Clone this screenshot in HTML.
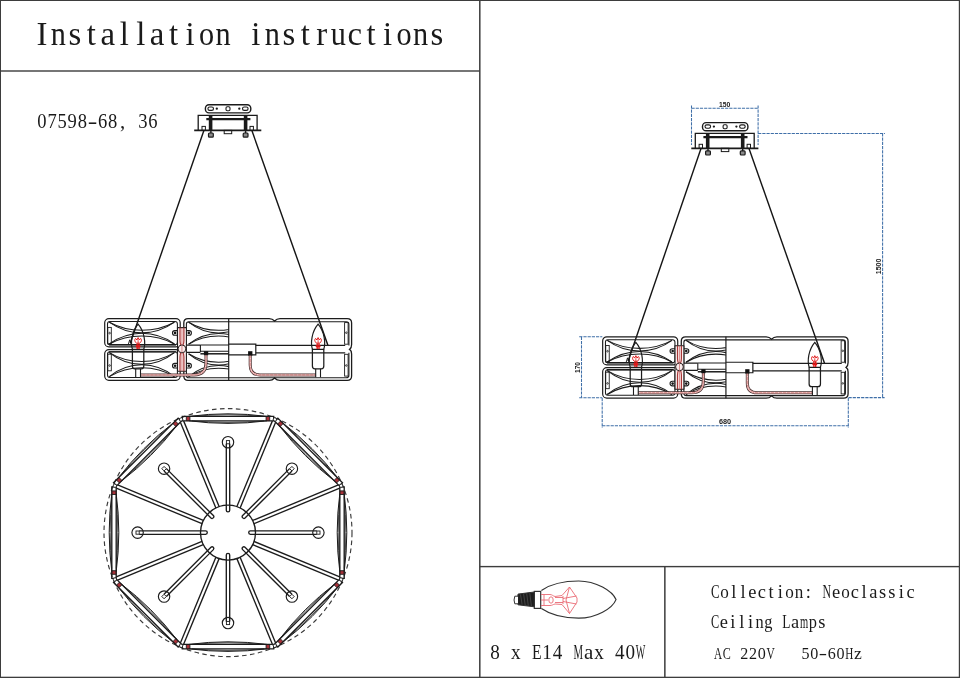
<!DOCTYPE html>
<html lang="en"><head><meta charset="utf-8"><title>Installation instructions</title>
<style>
html,body{margin:0;padding:0;background:#fff;}
body{width:960px;height:678px;overflow:hidden;font-family:"Liberation Serif",serif;}
svg{display:block;will-change:transform;}
</style></head><body>
<svg width="960" height="678" viewBox="0 0 960 678" font-family="'Liberation Serif', serif">
<defs><clipPath id="clipB"><rect x="183" y="317" width="45.7" height="65"/></clipPath></defs>
<rect width="960" height="678" fill="#fff"/>
<g fill="#3d3d3d" stroke="none"><rect x="0" y="0" width="960" height="1"/><rect x="0" y="0" width="1" height="678"/><rect x="958.8" y="0" width="1.2" height="678"/><rect x="0" y="676.7" width="960" height="1.3"/><rect x="479.05" y="0" width="1.5" height="678"/><rect x="0" y="70.3" width="479.8" height="1.4"/><rect x="479.8" y="565.9" width="480.2" height="1.4"/><rect x="664.1" y="566.6" width="1.5" height="111.4"/></g>
<text y="44.60" font-size="32.80" fill="#1a1a1a" aria-label="Installation instructions" ><tspan x="36.47">I</tspan><tspan x="50.82" textLength="15.14" lengthAdjust="spacingAndGlyphs">n</tspan><tspan x="68.47">s</tspan><tspan x="86.75">t</tspan><tspan x="100.49">a</tspan><tspan x="119.67">l</tspan><tspan x="136.13">l</tspan><tspan x="149.87">a</tspan><tspan x="169.05">t</tspan><tspan x="185.51">i</tspan><tspan x="198.96" textLength="15.14" lengthAdjust="spacingAndGlyphs">o</tspan><tspan x="215.42" textLength="15.14" lengthAdjust="spacingAndGlyphs">n</tspan> <tspan x="251.35">i</tspan><tspan x="264.80" textLength="15.14" lengthAdjust="spacingAndGlyphs">n</tspan><tspan x="282.45">s</tspan><tspan x="300.73">t</tspan><tspan x="316.29">r</tspan><tspan x="330.64" textLength="15.14" lengthAdjust="spacingAndGlyphs">u</tspan><tspan x="347.39">c</tspan><tspan x="366.57">t</tspan><tspan x="383.03">i</tspan><tspan x="396.48" textLength="15.14" lengthAdjust="spacingAndGlyphs">o</tspan><tspan x="412.94" textLength="15.14" lengthAdjust="spacingAndGlyphs">n</tspan><tspan x="430.59">s</tspan></text>
<text y="127.60" font-size="20.80" fill="#1a1a1a" aria-label="07598-68, 36" ><tspan x="37.35" textLength="9.28" lengthAdjust="spacingAndGlyphs">0</tspan><tspan x="47.44" textLength="9.28" lengthAdjust="spacingAndGlyphs">7</tspan><tspan x="57.53" textLength="9.28" lengthAdjust="spacingAndGlyphs">5</tspan><tspan x="67.62" textLength="9.28" lengthAdjust="spacingAndGlyphs">9</tspan><tspan x="77.71" textLength="9.28" lengthAdjust="spacingAndGlyphs">8</tspan><tspan x="87.65" textLength="9.59" lengthAdjust="spacingAndGlyphs">-</tspan><tspan x="97.89" textLength="9.28" lengthAdjust="spacingAndGlyphs">6</tspan><tspan x="107.98" textLength="9.28" lengthAdjust="spacingAndGlyphs">8</tspan><tspan x="120.12">,</tspan> <tspan x="138.25" textLength="9.28" lengthAdjust="spacingAndGlyphs">3</tspan><tspan x="148.34" textLength="9.28" lengthAdjust="spacingAndGlyphs">6</tspan></text>
<text y="658.60" font-size="21.00" fill="#1a1a1a" aria-label="8 x E14 Max 40W" ><tspan x="490.32" textLength="9.56" lengthAdjust="spacingAndGlyphs">8</tspan> <tspan x="511.10" textLength="9.56" lengthAdjust="spacingAndGlyphs">x</tspan> <tspan x="531.88" textLength="9.56" lengthAdjust="spacingAndGlyphs">E</tspan><tspan x="542.27" textLength="9.56" lengthAdjust="spacingAndGlyphs">1</tspan><tspan x="552.66" textLength="9.56" lengthAdjust="spacingAndGlyphs">4</tspan> <tspan x="573.44" textLength="9.56" lengthAdjust="spacingAndGlyphs">M</tspan><tspan x="583.94">a</tspan><tspan x="594.22" textLength="9.56" lengthAdjust="spacingAndGlyphs">x</tspan> <tspan x="615.00" textLength="9.56" lengthAdjust="spacingAndGlyphs">4</tspan><tspan x="625.39" textLength="9.56" lengthAdjust="spacingAndGlyphs">0</tspan><tspan x="635.78" textLength="9.56" lengthAdjust="spacingAndGlyphs">W</tspan></text>
<text y="597.90" font-size="18.40" fill="#1a1a1a" aria-label="Collection: Neoclassic" ><tspan x="710.97" textLength="8.56" lengthAdjust="spacingAndGlyphs">C</tspan><tspan x="720.27" textLength="8.56" lengthAdjust="spacingAndGlyphs">o</tspan><tspan x="731.29">l</tspan><tspan x="740.59">l</tspan><tspan x="748.37">e</tspan><tspan x="757.67">c</tspan><tspan x="768.49">t</tspan><tspan x="777.79">i</tspan><tspan x="785.37" textLength="8.56" lengthAdjust="spacingAndGlyphs">o</tspan><tspan x="794.67" textLength="8.56" lengthAdjust="spacingAndGlyphs">n</tspan><tspan x="805.69">:</tspan> <tspan x="822.57" textLength="8.56" lengthAdjust="spacingAndGlyphs">N</tspan><tspan x="832.07">e</tspan><tspan x="841.17" textLength="8.56" lengthAdjust="spacingAndGlyphs">o</tspan><tspan x="850.67">c</tspan><tspan x="861.49">l</tspan><tspan x="869.27">a</tspan><tspan x="879.07">s</tspan><tspan x="888.37">s</tspan><tspan x="898.69">i</tspan><tspan x="906.47">c</tspan></text>
<text y="628.40" font-size="18.40" fill="#1a1a1a" aria-label="Ceiling Lamps" ><tspan x="710.96" textLength="8.19" lengthAdjust="spacingAndGlyphs">C</tspan><tspan x="719.87">e</tspan><tspan x="730.29">i</tspan><tspan x="739.19">l</tspan><tspan x="748.09">i</tspan><tspan x="755.46" textLength="8.19" lengthAdjust="spacingAndGlyphs">n</tspan><tspan x="764.36" textLength="8.19" lengthAdjust="spacingAndGlyphs">g</tspan> <tspan x="782.16" textLength="8.19" lengthAdjust="spacingAndGlyphs">L</tspan><tspan x="791.07">a</tspan><tspan x="799.96" textLength="8.19" lengthAdjust="spacingAndGlyphs">m</tspan><tspan x="808.86" textLength="8.19" lengthAdjust="spacingAndGlyphs">p</tspan><tspan x="818.27">s</tspan></text>
<text y="659.00" font-size="17.60" fill="#1a1a1a" aria-label="AC 220V 50-60Hz" ><tspan x="713.95" textLength="8.05" lengthAdjust="spacingAndGlyphs">A</tspan><tspan x="722.70" textLength="8.05" lengthAdjust="spacingAndGlyphs">C</tspan> <tspan x="740.20" textLength="8.05" lengthAdjust="spacingAndGlyphs">2</tspan><tspan x="748.95" textLength="8.05" lengthAdjust="spacingAndGlyphs">2</tspan><tspan x="757.70" textLength="8.05" lengthAdjust="spacingAndGlyphs">0</tspan><tspan x="766.45" textLength="8.05" lengthAdjust="spacingAndGlyphs">V</tspan> <tspan x="801.45" textLength="8.05" lengthAdjust="spacingAndGlyphs">5</tspan><tspan x="810.20" textLength="8.05" lengthAdjust="spacingAndGlyphs">0</tspan><tspan x="818.82" textLength="8.31" lengthAdjust="spacingAndGlyphs">-</tspan><tspan x="827.70" textLength="8.05" lengthAdjust="spacingAndGlyphs">6</tspan><tspan x="836.45" textLength="8.05" lengthAdjust="spacingAndGlyphs">0</tspan><tspan x="845.20" textLength="8.05" lengthAdjust="spacingAndGlyphs">H</tspan><tspan x="854.07">z</tspan></text>
<g stroke="#1a1a1a" stroke-width="1.2" fill="none"><rect x="205.4" y="104.7" width="45.4" height="8.2" rx="3.6" stroke-width="1.4"/><rect x="207.9" y="107" width="5.6" height="3.4" rx="1.7" stroke-width="1.1"/><rect x="242.5" y="107" width="5.6" height="3.4" rx="1.7" stroke-width="1.1"/><rect x="226" y="106.8" width="4" height="4" rx="1.2" stroke-width="1.1"/><circle cx="216.8" cy="108.7" r="1.15" fill="#1a1a1a" stroke="none"/><circle cx="239.3" cy="108.7" r="1.15" fill="#1a1a1a" stroke="none"/><path d="M198.2 130.4V115.4H257.1V130.4" stroke-width="1.3"/><path d="M194.2 130.4H261.3" stroke-width="1.7"/><path d="M206.3 119.2H250.4" stroke-width="2.2"/><path d="M210.6 116V130.4M245.6 116V130.4" stroke-width="3.6"/><rect x="208.5" y="133" width="4.8" height="4.1" rx="0.9" fill="#8a8a8a" stroke-width="1.2"/><rect x="243.2" y="133" width="4.8" height="4.1" rx="0.9" fill="#8a8a8a" stroke-width="1.2"/><path d="M210.9 130.4V133M245.6 130.4V133" stroke-width="1.4"/><rect x="202" y="126.4" width="3.4" height="4" stroke-width="1"/><rect x="250" y="126.4" width="3.4" height="4" stroke-width="1"/><rect x="224.2" y="130.4" width="7.5" height="3.3" stroke-width="1"/></g>
<g stroke="#141414" stroke-width="1.4" fill="none"><path d="M203.90 130.60L130.30 343.00"/><path d="M251.90 130.60L327.90 345.30"/><path d="M128.40 344.00l1.3 -4.2l1.3 4.2" stroke-width="0.9"/></g>
<g stroke="#1c1c1c" stroke-width="1.25" fill="none"><rect x="104.70" y="318.60" width="75.50" height="28.30" rx="4.20" stroke-width="1.2"/><rect x="104.70" y="349.60" width="75.50" height="30.70" rx="4.20" stroke-width="1.2"/><rect x="107.50" y="321.50" width="69.90" height="23.20" rx="2.40" stroke-width="1.05"/><rect x="107.50" y="351.80" width="69.90" height="25.60" rx="2.40" stroke-width="1.05"/><path d="M109 344.7H176M109 351.8H176" stroke-width="1.35"/><g stroke-width="1.05"><path d="M109.30 322.20C128.83 332.95 154.87 332.95 174.40 322.20"/><path d="M109.30 322.20C128.83 336.44 154.87 336.44 174.40 322.20"/><path d="M109.30 344.00C128.83 333.25 154.87 333.25 174.40 344.00"/><path d="M109.30 344.00C128.83 329.76 154.87 329.76 174.40 344.00"/><path d="M109.30 352.60C128.83 364.44 154.87 364.44 174.40 352.60"/><path d="M109.30 352.60C128.83 368.28 154.87 368.28 174.40 352.60"/><path d="M109.30 376.60C128.83 364.76 154.87 364.76 174.40 376.60"/><path d="M109.30 376.60C128.83 360.92 154.87 360.92 174.40 376.60"/></g><rect x="107.8" y="327.4" width="3.5" height="16.5" stroke-width="0.9"/><circle cx="109.6" cy="333.1" r="0.8" stroke-width="0.8"/><rect x="107.8" y="354.2" width="3.5" height="16.6" stroke-width="0.9"/><circle cx="109.6" cy="365.5" r="0.8" stroke-width="0.8"/><path d="M177.50 330.60H174.80A2.30 2.30 0 0 0 174.80 335.20H177.50" stroke-width="1.1"/><circle cx="175.10" cy="332.90" r="1.3" fill="#161616" stroke="none"/><path d="M186.40 330.60H189.10A2.30 2.30 0 0 1 189.10 335.20H186.40" stroke-width="1.1"/><circle cx="188.80" cy="332.90" r="1.3" fill="#161616" stroke="none"/><path d="M177.50 363.40H174.80A2.30 2.30 0 0 0 174.80 368.00H177.50" stroke-width="1.1"/><circle cx="175.10" cy="365.70" r="1.3" fill="#161616" stroke="none"/><path d="M186.40 363.40H189.10A2.30 2.30 0 0 1 189.10 368.00H186.40" stroke-width="1.1"/><circle cx="188.80" cy="365.70" r="1.3" fill="#161616" stroke="none"/><path d="M183.8 345V322.9Q183.8 318.6 188.1 318.6H269.2Q272.4 318.6 274.6 321Q276.8 318.6 280 318.6H347.2Q351.6 318.6 351.6 323V344.5Q351.6 348 349.6 349.4Q351.6 350.8 351.6 354V376Q351.6 380.4 347.2 380.4H280Q276.8 380.4 274.6 378Q272.4 380.4 269.2 380.4H188.1Q183.8 380.4 183.8 376.1V354Q183.8 350.8 185.6 349.4Q183.8 348 183.8 345Z" stroke-width="1.3"/><path d="M186.4 345.4V324Q186.4 321.7 188.9 321.7H346.2Q348.9 321.7 348.9 324.2V345.4" stroke-width="1.1"/><path d="M186.4 352.8V375.4Q186.4 377.8 188.9 377.8H346.2Q348.9 377.8 348.9 375.2V352.8" stroke-width="1.1"/><g clip-path="url(#clipB)" stroke-width="1.05"><path d="M188.60 322.20C206.57 333.05 230.53 333.05 248.50 322.20"/><path d="M188.60 322.20C206.57 336.57 230.53 336.57 248.50 322.20"/><path d="M188.60 344.20C206.57 333.35 230.53 333.35 248.50 344.20"/><path d="M188.60 344.20C206.57 329.83 230.53 329.83 248.50 344.20"/><path d="M188.60 353.80C206.57 365.05 230.53 365.05 248.50 353.80"/><path d="M188.60 353.80C206.57 368.70 230.53 368.70 248.50 353.80"/><path d="M188.60 376.60C206.57 365.35 230.53 365.35 248.50 376.60"/><path d="M188.60 376.60C206.57 361.70 230.53 361.70 248.50 376.60"/></g><path d="M228.7 318.6V380.4" stroke-width="1.2"/><path d="M186.4 345.2H200.4M186.4 352.4H200.4" stroke-width="1.3"/><path d="M200.4 345.1V351.9" stroke-width="1.1"/><path d="M200.4 345H228.7M200.4 351.3H228.7" stroke-width="1.1"/><path d="M200.4 353.8H228.7" stroke-width="1.5"/><path d="M228.7 344.2H255.8V354.8H228.7" stroke-width="1.2"/><path d="M255.8 345.4H345.2M255.8 352.9H345.2" stroke-width="1.25"/><rect x="344.6" y="322.6" width="3.5" height="21.6" stroke-width="0.9"/><circle cx="346.3" cy="332.7" r="0.8" stroke-width="0.8"/><rect x="344.6" y="354.3" width="3.5" height="21.8" stroke-width="0.9"/><circle cx="346.3" cy="365.5" r="0.8" stroke-width="0.8"/><rect x="177.5" y="327.6" width="8.9" height="43.7" fill="#fdf0f0" stroke="none"/><path d="M177.5 327.6V371.3M186.4 327.6V371.3" stroke-width="1.05"/><path d="M177.2 327.6H186.7M177.2 371.3H186.7" stroke-width="1.1"/><path d="M180 327.6V340.5Q180 343.5 181 345.4M183.9 327.6V340.5Q183.9 343.5 182.9 345.4M180 371.3V357Q180 354 181 352.2M183.9 371.3V357Q183.9 354 182.9 352.2" stroke="#a83838" stroke-width="1.2"/><path d="M181.95 327.6V371.3" stroke="#c86060" stroke-width="0.7"/><circle cx="181.95" cy="348.9" r="3.9" fill="#fbecec" stroke="#2a2020" stroke-width="1"/><path d="M181.95 345.4V352.4" stroke="#c86060" stroke-width="0.7"/><path d="M206 354.8V363Q206 374.9 194 374.9H140.5" stroke="#4a3030" stroke-width="3"/><path d="M206 354.8V363Q206 374.9 194 374.9H140.5" stroke="#f6caca" stroke-width="1.5"/><path d="M206 354.8V363Q206 374.9 194 374.9H140.5" stroke="#c0504d" stroke-width="0.5" stroke-dasharray="3 1"/><path d="M250.2 355V365Q250.2 374.9 260 374.9H316" stroke="#4a3030" stroke-width="3"/><path d="M250.2 355V365Q250.2 374.9 260 374.9H316" stroke="#f6caca" stroke-width="1.5"/><path d="M250.2 355V365Q250.2 374.9 260 374.9H316" stroke="#c0504d" stroke-width="0.5" stroke-dasharray="3 1"/><rect x="203.9" y="351.2" width="4.3" height="4" fill="#111" stroke="none"/><rect x="248.1" y="351.2" width="4.3" height="4.4" fill="#111" stroke="none"/><path d="M132.50 349.4C130.30 343 131.80 331.5 138.10 324.2C144.40 331.5 145.90 343 143.70 349.4" stroke-width="1.2"/><path d="M132.40 349.3H143.80V366Q143.80 368.8 141.30 368.8H134.90Q132.40 368.8 132.40 366Z" stroke-width="1.25"/><path d="M135.70 368.8V377.2M140.50 368.8V377.2" stroke-width="1.1"/><g stroke="#e01818" fill="none" stroke-width="1"><path d="M137.20 349V343.5M139.00 349V343.5" stroke-width="1.4"/><path d="M135.70 346.2H140.50" stroke-width="1.8"/><path d="M136.50 343.2C134.20 341 134.50 339.5 135.60 338.4L136.90 340L138.10 337.6L139.30 340L140.60 338.4C141.70 339.5 142.00 341 139.70 343.2Z" stroke-width="1"/><path d="M138.10 343V340.2" stroke-width="0.8"/></g><path d="M312.50 349.4C310.30 343 311.80 331.5 318.10 324.2C324.40 331.5 325.90 343 323.70 349.4" stroke-width="1.2"/><path d="M312.40 349.3H323.80V366Q323.80 368.8 321.30 368.8H314.90Q312.40 368.8 312.40 366Z" stroke-width="1.25"/><path d="M315.70 368.8V377.2M320.50 368.8V377.2" stroke-width="1.1"/><g stroke="#e01818" fill="none" stroke-width="1"><path d="M317.20 349V343.5M319.00 349V343.5" stroke-width="1.4"/><path d="M315.70 346.2H320.50" stroke-width="1.8"/><path d="M316.50 343.2C314.20 341 314.50 339.5 315.60 338.4L316.90 340L318.10 337.6L319.30 340L320.60 338.4C321.70 339.5 322.00 341 319.70 343.2Z" stroke-width="1"/><path d="M318.10 343V340.2" stroke-width="0.8"/></g></g>
<g transform="translate(497.1 17.9)"><g stroke="#1a1a1a" stroke-width="1.2" fill="none"><rect x="205.4" y="104.7" width="45.4" height="8.2" rx="3.6" stroke-width="1.4"/><rect x="207.9" y="107" width="5.6" height="3.4" rx="1.7" stroke-width="1.1"/><rect x="242.5" y="107" width="5.6" height="3.4" rx="1.7" stroke-width="1.1"/><rect x="226" y="106.8" width="4" height="4" rx="1.2" stroke-width="1.1"/><circle cx="216.8" cy="108.7" r="1.15" fill="#1a1a1a" stroke="none"/><circle cx="239.3" cy="108.7" r="1.15" fill="#1a1a1a" stroke="none"/><path d="M198.2 130.4V115.4H257.1V130.4" stroke-width="1.3"/><path d="M194.2 130.4H261.3" stroke-width="1.7"/><path d="M206.3 119.2H250.4" stroke-width="2.2"/><path d="M210.6 116V130.4M245.6 116V130.4" stroke-width="3.6"/><rect x="208.5" y="133" width="4.8" height="4.1" rx="0.9" fill="#8a8a8a" stroke-width="1.2"/><rect x="243.2" y="133" width="4.8" height="4.1" rx="0.9" fill="#8a8a8a" stroke-width="1.2"/><path d="M210.9 130.4V133M245.6 130.4V133" stroke-width="1.4"/><rect x="202" y="126.4" width="3.4" height="4" stroke-width="1"/><rect x="250" y="126.4" width="3.4" height="4" stroke-width="1"/><rect x="224.2" y="130.4" width="7.5" height="3.3" stroke-width="1"/></g></g>
<g stroke="#141414" stroke-width="1.4" fill="none"><path d="M701.00 148.50L628.12 361.04"/><path d="M749.00 148.50L824.53 363.33"/><path d="M626.22 362.04l1.3 -4.2l1.3 4.2" stroke-width="0.9"/></g>
<g transform="translate(498.6 20.1) scale(0.994)"><g stroke="#1c1c1c" stroke-width="1.25" fill="none"><rect x="104.70" y="318.60" width="75.50" height="28.30" rx="4.20" stroke-width="1.2"/><rect x="104.70" y="349.60" width="75.50" height="30.70" rx="4.20" stroke-width="1.2"/><rect x="107.50" y="321.50" width="69.90" height="23.20" rx="2.40" stroke-width="1.05"/><rect x="107.50" y="351.80" width="69.90" height="25.60" rx="2.40" stroke-width="1.05"/><path d="M109 344.7H176M109 351.8H176" stroke-width="1.35"/><g stroke-width="1.05"><path d="M109.30 322.20C128.83 332.95 154.87 332.95 174.40 322.20"/><path d="M109.30 322.20C128.83 336.44 154.87 336.44 174.40 322.20"/><path d="M109.30 344.00C128.83 333.25 154.87 333.25 174.40 344.00"/><path d="M109.30 344.00C128.83 329.76 154.87 329.76 174.40 344.00"/><path d="M109.30 352.60C128.83 364.44 154.87 364.44 174.40 352.60"/><path d="M109.30 352.60C128.83 368.28 154.87 368.28 174.40 352.60"/><path d="M109.30 376.60C128.83 364.76 154.87 364.76 174.40 376.60"/><path d="M109.30 376.60C128.83 360.92 154.87 360.92 174.40 376.60"/></g><rect x="107.8" y="327.4" width="3.5" height="16.5" stroke-width="0.9"/><circle cx="109.6" cy="333.1" r="0.8" stroke-width="0.8"/><rect x="107.8" y="354.2" width="3.5" height="16.6" stroke-width="0.9"/><circle cx="109.6" cy="365.5" r="0.8" stroke-width="0.8"/><path d="M177.50 330.60H174.80A2.30 2.30 0 0 0 174.80 335.20H177.50" stroke-width="1.1"/><circle cx="175.10" cy="332.90" r="1.3" fill="#161616" stroke="none"/><path d="M186.40 330.60H189.10A2.30 2.30 0 0 1 189.10 335.20H186.40" stroke-width="1.1"/><circle cx="188.80" cy="332.90" r="1.3" fill="#161616" stroke="none"/><path d="M177.50 363.40H174.80A2.30 2.30 0 0 0 174.80 368.00H177.50" stroke-width="1.1"/><circle cx="175.10" cy="365.70" r="1.3" fill="#161616" stroke="none"/><path d="M186.40 363.40H189.10A2.30 2.30 0 0 1 189.10 368.00H186.40" stroke-width="1.1"/><circle cx="188.80" cy="365.70" r="1.3" fill="#161616" stroke="none"/><path d="M183.8 345V322.9Q183.8 318.6 188.1 318.6H269.2Q272.4 318.6 274.6 321Q276.8 318.6 280 318.6H347.2Q351.6 318.6 351.6 323V344.5Q351.6 348 349.6 349.4Q351.6 350.8 351.6 354V376Q351.6 380.4 347.2 380.4H280Q276.8 380.4 274.6 378Q272.4 380.4 269.2 380.4H188.1Q183.8 380.4 183.8 376.1V354Q183.8 350.8 185.6 349.4Q183.8 348 183.8 345Z" stroke-width="1.3"/><path d="M186.4 345.4V324Q186.4 321.7 188.9 321.7H346.2Q348.9 321.7 348.9 324.2V345.4" stroke-width="1.1"/><path d="M186.4 352.8V375.4Q186.4 377.8 188.9 377.8H346.2Q348.9 377.8 348.9 375.2V352.8" stroke-width="1.1"/><g clip-path="url(#clipB)" stroke-width="1.05"><path d="M188.60 322.20C206.57 333.05 230.53 333.05 248.50 322.20"/><path d="M188.60 322.20C206.57 336.57 230.53 336.57 248.50 322.20"/><path d="M188.60 344.20C206.57 333.35 230.53 333.35 248.50 344.20"/><path d="M188.60 344.20C206.57 329.83 230.53 329.83 248.50 344.20"/><path d="M188.60 353.80C206.57 365.05 230.53 365.05 248.50 353.80"/><path d="M188.60 353.80C206.57 368.70 230.53 368.70 248.50 353.80"/><path d="M188.60 376.60C206.57 365.35 230.53 365.35 248.50 376.60"/><path d="M188.60 376.60C206.57 361.70 230.53 361.70 248.50 376.60"/></g><path d="M228.7 318.6V380.4" stroke-width="1.2"/><path d="M186.4 345.2H200.4M186.4 352.4H200.4" stroke-width="1.3"/><path d="M200.4 345.1V351.9" stroke-width="1.1"/><path d="M200.4 345H228.7M200.4 351.3H228.7" stroke-width="1.1"/><path d="M200.4 353.8H228.7" stroke-width="1.5"/><path d="M228.7 344.2H255.8V354.8H228.7" stroke-width="1.2"/><path d="M255.8 345.4H345.2M255.8 352.9H345.2" stroke-width="1.25"/><rect x="344.6" y="322.6" width="3.5" height="21.6" stroke-width="0.9"/><circle cx="346.3" cy="332.7" r="0.8" stroke-width="0.8"/><rect x="344.6" y="354.3" width="3.5" height="21.8" stroke-width="0.9"/><circle cx="346.3" cy="365.5" r="0.8" stroke-width="0.8"/><rect x="177.5" y="327.6" width="8.9" height="43.7" fill="#fdf0f0" stroke="none"/><path d="M177.5 327.6V371.3M186.4 327.6V371.3" stroke-width="1.05"/><path d="M177.2 327.6H186.7M177.2 371.3H186.7" stroke-width="1.1"/><path d="M180 327.6V340.5Q180 343.5 181 345.4M183.9 327.6V340.5Q183.9 343.5 182.9 345.4M180 371.3V357Q180 354 181 352.2M183.9 371.3V357Q183.9 354 182.9 352.2" stroke="#a83838" stroke-width="1.2"/><path d="M181.95 327.6V371.3" stroke="#c86060" stroke-width="0.7"/><circle cx="181.95" cy="348.9" r="3.9" fill="#fbecec" stroke="#2a2020" stroke-width="1"/><path d="M181.95 345.4V352.4" stroke="#c86060" stroke-width="0.7"/><path d="M206 354.8V363Q206 374.9 194 374.9H140.5" stroke="#4a3030" stroke-width="3"/><path d="M206 354.8V363Q206 374.9 194 374.9H140.5" stroke="#f6caca" stroke-width="1.5"/><path d="M206 354.8V363Q206 374.9 194 374.9H140.5" stroke="#c0504d" stroke-width="0.5" stroke-dasharray="3 1"/><path d="M250.2 355V365Q250.2 374.9 260 374.9H316" stroke="#4a3030" stroke-width="3"/><path d="M250.2 355V365Q250.2 374.9 260 374.9H316" stroke="#f6caca" stroke-width="1.5"/><path d="M250.2 355V365Q250.2 374.9 260 374.9H316" stroke="#c0504d" stroke-width="0.5" stroke-dasharray="3 1"/><rect x="203.9" y="351.2" width="4.3" height="4" fill="#111" stroke="none"/><rect x="248.1" y="351.2" width="4.3" height="4.4" fill="#111" stroke="none"/><path d="M132.50 349.4C130.30 343 131.80 331.5 138.10 324.2C144.40 331.5 145.90 343 143.70 349.4" stroke-width="1.2"/><path d="M132.40 349.3H143.80V366Q143.80 368.8 141.30 368.8H134.90Q132.40 368.8 132.40 366Z" stroke-width="1.25"/><path d="M135.70 368.8V377.2M140.50 368.8V377.2" stroke-width="1.1"/><g stroke="#e01818" fill="none" stroke-width="1"><path d="M137.20 349V343.5M139.00 349V343.5" stroke-width="1.4"/><path d="M135.70 346.2H140.50" stroke-width="1.8"/><path d="M136.50 343.2C134.20 341 134.50 339.5 135.60 338.4L136.90 340L138.10 337.6L139.30 340L140.60 338.4C141.70 339.5 142.00 341 139.70 343.2Z" stroke-width="1"/><path d="M138.10 343V340.2" stroke-width="0.8"/></g><path d="M312.50 349.4C310.30 343 311.80 331.5 318.10 324.2C324.40 331.5 325.90 343 323.70 349.4" stroke-width="1.2"/><path d="M312.40 349.3H323.80V366Q323.80 368.8 321.30 368.8H314.90Q312.40 368.8 312.40 366Z" stroke-width="1.25"/><path d="M315.70 368.8V377.2M320.50 368.8V377.2" stroke-width="1.1"/><g stroke="#e01818" fill="none" stroke-width="1"><path d="M317.20 349V343.5M319.00 349V343.5" stroke-width="1.4"/><path d="M315.70 346.2H320.50" stroke-width="1.8"/><path d="M316.50 343.2C314.20 341 314.50 339.5 315.60 338.4L316.90 340L318.10 337.6L319.30 340L320.60 338.4C321.70 339.5 322.00 341 319.70 343.2Z" stroke-width="1"/><path d="M318.10 343V340.2" stroke-width="0.8"/></g></g></g>
<g stroke="#3f6fa8" stroke-width="1.05" fill="none" stroke-dasharray="3.2 1"><path d="M691.5 108.2H758.1"/><path d="M691.5 105.4V145"/><path d="M758.1 105.4V145"/><path d="M758.1 133.4H885"/><path d="M882.6 133.4V397.6"/><path d="M848.5 397.6H884.6"/><path d="M581.5 336.8V397.7"/><path d="M579.2 336.8H602.3"/><path d="M579.2 397.7H602.3"/><path d="M602.2 398V428"/><path d="M848.3 398V428"/><path d="M602.2 425.8H848.3"/></g><g font-family="'Liberation Sans', sans-serif" font-weight="bold" font-size="7.3" fill="#1a1a1a" text-anchor="middle"><text x="724.7" y="106.7" textLength="11.3" lengthAdjust="spacingAndGlyphs">150</text>
<text x="725" y="424.1">680</text>
<text transform="translate(880.7 266.4) rotate(-90)" textLength="15.6" lengthAdjust="spacingAndGlyphs">1500</text>
<text transform="translate(580.3 367.5) rotate(-90)" textLength="10.8" lengthAdjust="spacingAndGlyphs">170</text></g>
<g stroke="#1c1c1c" stroke-width="1.35" fill="none"><circle cx="228.0" cy="532.6" r="124.0" stroke="#3c3c3c" stroke-width="1.15" stroke-dasharray="4.6 3.4"/><path d="M254.02 541.49L339.73 576.99"/><path d="M252.69 544.72L338.39 580.22"/><path d="M240.12 557.29L275.62 642.99"/><path d="M236.89 558.62L272.39 644.33"/><path d="M219.11 558.62L183.61 644.33"/><path d="M215.88 557.29L180.38 642.99"/><path d="M203.31 544.72L117.61 580.22"/><path d="M201.98 541.49L116.27 576.99"/><path d="M201.98 523.71L116.27 488.21"/><path d="M203.31 520.48L117.61 484.98"/><path d="M215.88 507.91L180.38 422.21"/><path d="M219.11 506.58L183.61 420.87"/><path d="M236.89 506.58L272.39 420.87"/><path d="M240.12 507.91L275.62 422.21"/><path d="M252.69 520.48L338.39 484.98"/><path d="M254.02 523.71L339.73 488.21"/><path d="M344.50 490.90L344.50 494.50L339.50 494.50L339.50 490.90Z" fill="#a83038" stroke="none"/><path d="M344.50 570.70L344.50 574.30L339.50 574.30L339.50 570.70Z" fill="#a83038" stroke="none"/><path d="M344.20 486.90L344.20 578.30L339.80 578.30L339.80 486.90Z" stroke-width="1.35"/><path d="M344.20 490.90L339.80 490.90" stroke-width="0.9"/><path d="M344.20 494.50L339.80 494.50" stroke-width="0.9"/><path d="M344.20 574.30L339.80 574.30" stroke-width="0.9"/><path d="M344.20 570.70L339.80 570.70" stroke-width="0.9"/><path d="M344.20 493.60Q349.40 532.60 344.20 571.60" stroke-width="1"/><path d="M339.80 493.60Q334.60 532.60 339.80 571.60" stroke-width="1"/><path d="M344.20 496.60Q347.40 532.60 344.20 568.60" stroke-width="0.8"/><path d="M339.80 496.60Q336.60 532.60 339.80 568.60" stroke-width="0.8"/><path d="M339.86 585.49L337.32 588.04L333.78 584.50L336.33 581.96Z" fill="#a83038" stroke="none"/><path d="M283.44 641.92L280.89 644.46L277.36 640.93L279.90 638.38Z" fill="#a83038" stroke="none"/><path d="M342.48 582.45L277.85 647.08L274.74 643.97L339.37 579.34Z" stroke-width="1.35"/><path d="M339.65 585.28L336.54 582.17" stroke-width="0.9"/><path d="M337.11 587.83L334.00 584.71" stroke-width="0.9"/><path d="M280.68 644.25L277.57 641.14" stroke-width="0.9"/><path d="M283.23 641.71L280.11 638.60" stroke-width="0.9"/><path d="M337.74 587.19Q313.84 618.44 282.59 642.34" stroke-width="1"/><path d="M334.63 584.08Q303.38 607.98 279.48 639.23" stroke-width="1"/><path d="M335.62 589.31Q312.43 617.03 284.71 640.22" stroke-width="0.8"/><path d="M332.51 586.20Q304.79 609.39 281.60 637.11" stroke-width="0.8"/><path d="M269.70 649.10L266.10 649.10L266.10 644.10L269.70 644.10Z" fill="#a83038" stroke="none"/><path d="M189.90 649.10L186.30 649.10L186.30 644.10L189.90 644.10Z" fill="#a83038" stroke="none"/><path d="M273.70 648.80L182.30 648.80L182.30 644.40L273.70 644.40Z" stroke-width="1.35"/><path d="M269.70 648.80L269.70 644.40" stroke-width="0.9"/><path d="M266.10 648.80L266.10 644.40" stroke-width="0.9"/><path d="M186.30 648.80L186.30 644.40" stroke-width="0.9"/><path d="M189.90 648.80L189.90 644.40" stroke-width="0.9"/><path d="M267.00 648.80Q228.00 654.00 189.00 648.80" stroke-width="1"/><path d="M267.00 644.40Q228.00 639.20 189.00 644.40" stroke-width="1"/><path d="M264.00 648.80Q228.00 652.00 192.00 648.80" stroke-width="0.8"/><path d="M264.00 644.40Q228.00 641.20 192.00 644.40" stroke-width="0.8"/><path d="M175.11 644.46L172.56 641.92L176.10 638.38L178.64 640.93Z" fill="#a83038" stroke="none"/><path d="M118.68 588.04L116.14 585.49L119.67 581.96L122.22 584.50Z" fill="#a83038" stroke="none"/><path d="M178.15 647.08L113.52 582.45L116.63 579.34L181.26 643.97Z" stroke-width="1.35"/><path d="M175.32 644.25L178.43 641.14" stroke-width="0.9"/><path d="M172.77 641.71L175.89 638.60" stroke-width="0.9"/><path d="M116.35 585.28L119.46 582.17" stroke-width="0.9"/><path d="M118.89 587.83L122.00 584.71" stroke-width="0.9"/><path d="M173.41 642.34Q142.16 618.44 118.26 587.19" stroke-width="1"/><path d="M176.52 639.23Q152.62 607.98 121.37 584.08" stroke-width="1"/><path d="M171.29 640.22Q143.57 617.03 120.38 589.31" stroke-width="0.8"/><path d="M174.40 637.11Q151.21 609.39 123.49 586.20" stroke-width="0.8"/><path d="M111.50 574.30L111.50 570.70L116.50 570.70L116.50 574.30Z" fill="#a83038" stroke="none"/><path d="M111.50 494.50L111.50 490.90L116.50 490.90L116.50 494.50Z" fill="#a83038" stroke="none"/><path d="M111.80 578.30L111.80 486.90L116.20 486.90L116.20 578.30Z" stroke-width="1.35"/><path d="M111.80 574.30L116.20 574.30" stroke-width="0.9"/><path d="M111.80 570.70L116.20 570.70" stroke-width="0.9"/><path d="M111.80 490.90L116.20 490.90" stroke-width="0.9"/><path d="M111.80 494.50L116.20 494.50" stroke-width="0.9"/><path d="M111.80 571.60Q106.60 532.60 111.80 493.60" stroke-width="1"/><path d="M116.20 571.60Q121.40 532.60 116.20 493.60" stroke-width="1"/><path d="M111.80 568.60Q108.60 532.60 111.80 496.60" stroke-width="0.8"/><path d="M116.20 568.60Q119.40 532.60 116.20 496.60" stroke-width="0.8"/><path d="M116.14 479.71L118.68 477.16L122.22 480.70L119.67 483.24Z" fill="#a83038" stroke="none"/><path d="M172.56 423.28L175.11 420.74L178.64 424.27L176.10 426.82Z" fill="#a83038" stroke="none"/><path d="M113.52 482.75L178.15 418.12L181.26 421.23L116.63 485.86Z" stroke-width="1.35"/><path d="M116.35 479.92L119.46 483.03" stroke-width="0.9"/><path d="M118.89 477.37L122.00 480.49" stroke-width="0.9"/><path d="M175.32 420.95L178.43 424.06" stroke-width="0.9"/><path d="M172.77 423.49L175.89 426.60" stroke-width="0.9"/><path d="M118.26 478.01Q142.16 446.76 173.41 422.86" stroke-width="1"/><path d="M121.37 481.12Q152.62 457.22 176.52 425.97" stroke-width="1"/><path d="M120.38 475.89Q143.57 448.17 171.29 424.98" stroke-width="0.8"/><path d="M123.49 479.00Q151.21 455.81 174.40 428.09" stroke-width="0.8"/><path d="M186.30 416.10L189.90 416.10L189.90 421.10L186.30 421.10Z" fill="#a83038" stroke="none"/><path d="M266.10 416.10L269.70 416.10L269.70 421.10L266.10 421.10Z" fill="#a83038" stroke="none"/><path d="M182.30 416.40L273.70 416.40L273.70 420.80L182.30 420.80Z" stroke-width="1.35"/><path d="M186.30 416.40L186.30 420.80" stroke-width="0.9"/><path d="M189.90 416.40L189.90 420.80" stroke-width="0.9"/><path d="M269.70 416.40L269.70 420.80" stroke-width="0.9"/><path d="M266.10 416.40L266.10 420.80" stroke-width="0.9"/><path d="M189.00 416.40Q228.00 411.20 267.00 416.40" stroke-width="1"/><path d="M189.00 420.80Q228.00 426.00 267.00 420.80" stroke-width="1"/><path d="M192.00 416.40Q228.00 413.20 264.00 416.40" stroke-width="0.8"/><path d="M192.00 420.80Q228.00 424.00 264.00 420.80" stroke-width="0.8"/><path d="M280.89 420.74L283.44 423.28L279.90 426.82L277.36 424.27Z" fill="#a83038" stroke="none"/><path d="M337.32 477.16L339.86 479.71L336.33 483.24L333.78 480.70Z" fill="#a83038" stroke="none"/><path d="M277.85 418.12L342.48 482.75L339.37 485.86L274.74 421.23Z" stroke-width="1.35"/><path d="M280.68 420.95L277.57 424.06" stroke-width="0.9"/><path d="M283.23 423.49L280.11 426.60" stroke-width="0.9"/><path d="M339.65 479.92L336.54 483.03" stroke-width="0.9"/><path d="M337.11 477.37L334.00 480.49" stroke-width="0.9"/><path d="M282.59 422.86Q313.84 446.76 337.74 478.01" stroke-width="1"/><path d="M279.48 425.97Q303.38 457.22 334.63 481.12" stroke-width="1"/><path d="M284.71 424.98Q312.43 448.17 335.62 475.89" stroke-width="0.8"/><path d="M281.60 428.09Q304.79 455.81 332.51 479.00" stroke-width="0.8"/><rect x="339.65" y="577.97" width="3" height="3" transform="rotate(22.5 341.15 579.47)" fill="#fff" stroke-width="0.8"/><rect x="273.37" y="644.25" width="3" height="3" transform="rotate(67.5 274.87 645.75)" fill="#fff" stroke-width="0.8"/><rect x="179.63" y="644.25" width="3" height="3" transform="rotate(112.5 181.13 645.75)" fill="#fff" stroke-width="0.8"/><rect x="113.35" y="577.97" width="3" height="3" transform="rotate(157.5 114.85 579.47)" fill="#fff" stroke-width="0.8"/><rect x="113.35" y="484.23" width="3" height="3" transform="rotate(202.5 114.85 485.73)" fill="#fff" stroke-width="0.8"/><rect x="179.63" y="417.95" width="3" height="3" transform="rotate(247.5 181.13 419.45)" fill="#fff" stroke-width="0.8"/><rect x="273.37" y="417.95" width="3" height="3" transform="rotate(292.5 274.87 419.45)" fill="#fff" stroke-width="0.8"/><rect x="339.65" y="484.23" width="3" height="3" transform="rotate(337.5 341.15 485.73)" fill="#fff" stroke-width="0.8"/><circle cx="228.0" cy="532.6" r="27.5" stroke-width="1.35"/><circle cx="318.40" cy="532.60" r="5.7" stroke-width="1.15"/><path d="M316.80 534.30L250.40 534.30A1.70 1.70 0 0 1 250.40 530.90L316.80 530.90"/><rect x="316.80" y="531.00" width="3.2" height="3.2" transform="rotate(0.0 318.40 532.60)" stroke-width="0.9"/><circle cx="291.92" cy="596.52" r="5.7" stroke-width="1.15"/><path d="M289.59 596.59L242.64 549.64A1.70 1.70 0 0 1 245.04 547.24L291.99 594.19"/><rect x="290.32" y="594.92" width="3.2" height="3.2" transform="rotate(45.0 291.92 596.52)" stroke-width="0.9"/><circle cx="228.00" cy="623.00" r="5.7" stroke-width="1.15"/><path d="M226.30 621.40L226.30 555.00A1.70 1.70 0 0 1 229.70 555.00L229.70 621.40"/><rect x="226.40" y="621.40" width="3.2" height="3.2" transform="rotate(90.0 228.00 623.00)" stroke-width="0.9"/><circle cx="164.08" cy="596.52" r="5.7" stroke-width="1.15"/><path d="M164.01 594.19L210.96 547.24A1.70 1.70 0 0 1 213.36 549.64L166.41 596.59"/><rect x="162.48" y="594.92" width="3.2" height="3.2" transform="rotate(135.0 164.08 596.52)" stroke-width="0.9"/><circle cx="137.60" cy="532.60" r="5.7" stroke-width="1.15"/><path d="M139.20 530.90L205.60 530.90A1.70 1.70 0 0 1 205.60 534.30L139.20 534.30"/><rect x="136.00" y="531.00" width="3.2" height="3.2" transform="rotate(180.0 137.60 532.60)" stroke-width="0.9"/><circle cx="164.08" cy="468.68" r="5.7" stroke-width="1.15"/><path d="M166.41 468.61L213.36 515.56A1.70 1.70 0 0 1 210.96 517.96L164.01 471.01"/><rect x="162.48" y="467.08" width="3.2" height="3.2" transform="rotate(225.0 164.08 468.68)" stroke-width="0.9"/><circle cx="228.00" cy="442.20" r="5.7" stroke-width="1.15"/><path d="M229.70 443.80L229.70 510.20A1.70 1.70 0 0 1 226.30 510.20L226.30 443.80"/><rect x="226.40" y="440.60" width="3.2" height="3.2" transform="rotate(270.0 228.00 442.20)" stroke-width="0.9"/><circle cx="291.92" cy="468.68" r="5.7" stroke-width="1.15"/><path d="M291.99 471.01L245.04 517.96A1.70 1.70 0 0 1 242.64 515.56L289.59 468.61"/><rect x="290.32" y="467.08" width="3.2" height="3.2" transform="rotate(315.0 291.92 468.68)" stroke-width="0.9"/></g>
<g stroke="#333" stroke-width="1" fill="none"><path d="M541.4 590.4C550 584.5 563 581 578.7 581C596 581 612.5 591 616 599.6C612.5 608.5 596 618.2 578.7 618.2C563 618.2 550 614.5 541.4 608.6" stroke-width="1.2"/><rect x="534.3" y="591.4" width="6.4" height="17" fill="#fff" stroke-width="1.2"/><path d="M518 594.1L534.3 592V606.8L518 604.8Q517.2 599.5 518 594.1Z" fill="#1e1e1e" stroke-width="1"/><path d="M520.5 594.5l1.6 10M523.6 594l1.6 11M526.7 593.6l1.6 12M529.8 593.2l1.6 13" stroke="#6a6a6a" stroke-width="0.5"/><path d="M518 596.2H514.8Q513.3 600 514.8 603.8H518" fill="#fff" stroke-width="1"/><g stroke="#ea6b75" stroke-width="0.9"><path d="M541 594.5H550C552 594.5 553 596 555 596.5L562 595.5L569.5 587L577 598L577 602L569.5 613.5L562 604.5L555 604C553 604.5 552 605.5 550 605.5H541"/><path d="M544 594.5V605.5M541 600H548"/><ellipse cx="551" cy="600" rx="2.2" ry="3.2"/><path d="M555 597.5H563M555 602.5H563M563 596V604"/><path d="M563 598.5L576.5 596M563 601.5L576.5 604M569.5 587L566 600L569.5 613.5"/></g></g>
</svg>
</body></html>
